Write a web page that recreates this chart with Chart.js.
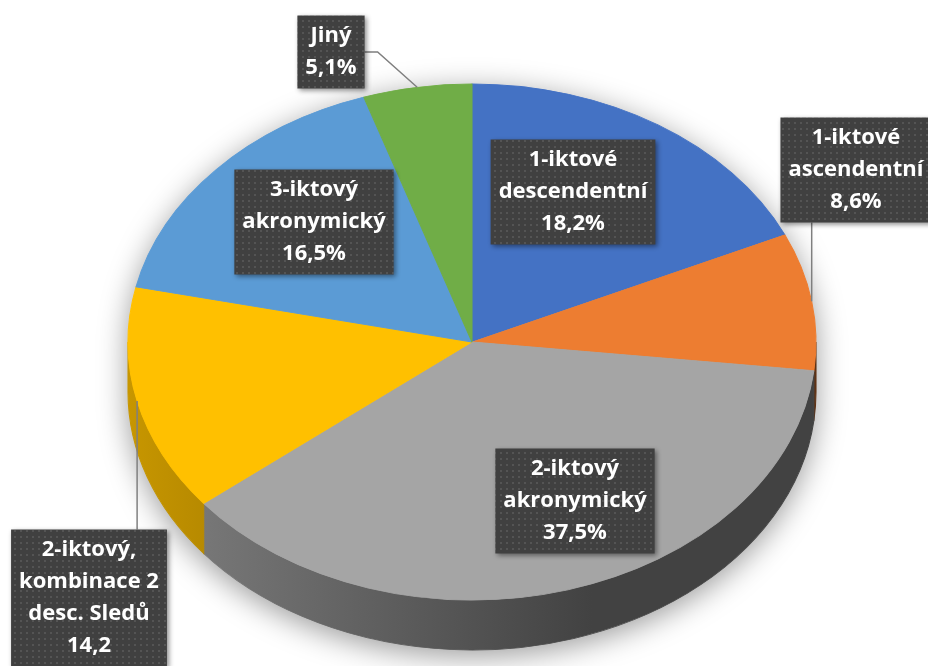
<!DOCTYPE html>
<html>
<head>
<meta charset="utf-8">
<script src="https://cdn.jsdelivr.net/npm/chart.js@4.4.0/dist/chart.umd.min.js"></script>
<style>
    html, body { margin: 0; padding: 0; background: #fff; }
    canvas { display: block; }
</style>
</head>
<body>
<canvas id="pieChart" width="928" height="666"></canvas>
<script>
// data
const categories = [
    ['1-iktové', 'descendentní'],
    ['1-iktové', 'ascendentní'],
    ['2-iktový', 'akronymický'],
    ['2-iktový,', 'kombinace 2', 'desc. Sledů'],
    ['3-iktový', 'akronymický'],
    ['Jiný'],
];
const values = [18.2, 8.6, 37.5, 14.2, 16.5, 5.1];
const valueLabels = ['18,2%', '8,6%', '37,5%', '14,2', '16,5%', '5,1%'];

// look
const colors = ['#4472C4', '#ED7D31', '#A5A5A5', '#FFC000', '#5B9BD5', '#70AD47'];
const pieCenter = { x: 472, y: 342 };
const pieRadius = { x: 344, y: 258 };
const sideDepth = 50;
const labelCenters = [
    { x: 573, y: 192 },
    { x: 856, y: 170 },
    { x: 575, y: 501 },
    { x: 89, y: 598 },
    { x: 314, y: 222 },
    { x: 331, y: 52 },
];
const hasLeader = [false, true, false, true, false, true];
const labelFont = 'bold 22px "Open Sans"';
const lineHeight = 32;

(function () {
    const canvas = document.getElementById('pieChart');
    const ctx = canvas.getContext('2d');

    const shade = (hex, f) => {
        const n = parseInt(hex.slice(1), 16);
        const r = Math.round(((n >> 16) & 255) * f);
        const g = Math.round(((n >> 8) & 255) * f);
        const b = Math.round((n & 255) * f);
        return `rgb(${r},${g},${b})`;
    };

    const tile = document.createElement('canvas');
    tile.width = 6;
    tile.height = 6;
    const tctx = tile.getContext('2d');
    tctx.fillStyle = '#404040';
    tctx.fillRect(0, 0, 6, 6);
    tctx.fillStyle = '#545454';
    tctx.fillRect(2, 2, 2, 2);
    const boxPattern = ctx.createPattern(tile, 'repeat');

    // squash the flat pie into a tilted disc and give it a side wall
    const pie3d = {
        id: 'pie3d',
        beforeDatasetsDraw(chart) {
            const c = chart.ctx;
            const arcs = chart.getDatasetMeta(0).data;
            const { x, y, outerRadius: r } = arcs[0];
            c.save();
            c.translate(pieCenter.x, pieCenter.y);
            c.scale(pieRadius.x / r, pieRadius.y / r);
            c.translate(-x, -y);
            const d = sideDepth * r / pieRadius.y;

            // soft shadow under the disc
            c.save();
            c.beginPath();
            c.arc(x, y, r, Math.PI, 2 * Math.PI);
            c.arc(x, y + d, r, 0, Math.PI);
            c.closePath();
            c.shadowColor = 'rgba(0,0,0,0.4)';
            c.shadowBlur = 30;
            c.shadowOffsetY = 6;
            c.fillStyle = '#fff';
            c.fill();
            c.restore();

            arcs.forEach((arc, i) => {
                const a1 = Math.max(arc.startAngle, 0);
                const a2 = Math.min(arc.endAngle, Math.PI);
                if (a2 <= a1) return;
                const grad = c.createLinearGradient(x - r, 0, x + r * 0.35, 0);
                grad.addColorStop(0, shade(colors[i], 0.78));
                grad.addColorStop(1, shade(colors[i], 0.4));
                c.beginPath();
                c.arc(x, y, r, a1, a2);
                c.arc(x, y + d, r, a2, a1, true);
                c.closePath();
                c.fillStyle = grad;
                c.fill();
                c.strokeStyle = grad;
                c.lineWidth = 1;
                c.stroke();
            });
        },
        afterDatasetsDraw(chart) {
            chart.ctx.restore();
        },
    };

    const boxLabels = {
        id: 'boxLabels',
        afterDraw(chart) {
            const c = chart.ctx;
            const arcs = chart.getDatasetMeta(0).data;
            c.save();
            c.font = labelFont;
            c.textAlign = 'center';
            c.textBaseline = 'middle';

            arcs.forEach((arc, i) => {
                const lines = [...categories[i], valueLabels[i]];
                const w = Math.max(...lines.map((l) => c.measureText(l).width)) + 16;
                const h = lines.length * lineHeight + 9;
                const cx = labelCenters[i].x;
                const cy = labelCenters[i].y;
                const box = { l: cx - w / 2, r: cx + w / 2, t: cy - h / 2, b: cy + h / 2 };

                if (hasLeader[i]) {
                    const mid = (arc.startAngle + arc.endAngle) / 2;
                    const ex = pieCenter.x + pieRadius.x * Math.cos(mid);
                    const ey = pieCenter.y + pieRadius.y * Math.sin(mid);
                    c.beginPath();
                    c.moveTo(ex, ey);
                    if (ex > box.l && ex < box.r) {
                        c.lineTo(ex, ey > cy ? box.b : box.t);
                    } else {
                        const side = ex > cx ? box.r : box.l;
                        const knee = ex > cx ? side + 13 : side - 13;
                        c.lineTo(knee, cy);
                        c.lineTo(side, cy);
                    }
                    c.strokeStyle = '#7f7f7f';
                    c.lineWidth = 1.5;
                    c.stroke();
                }

                c.save();
                c.shadowColor = 'rgba(0,0,0,0.45)';
                c.shadowBlur = 5;
                c.shadowOffsetX = 2;
                c.shadowOffsetY = 2;
                c.fillStyle = boxPattern;
                c.fillRect(box.l, box.t, w, h);
                c.restore();

                c.fillStyle = '#fff';
                const top = cy - ((lines.length - 1) * lineHeight) / 2;
                lines.forEach((l, k) => c.fillText(l, cx, top + k * lineHeight));
            });
            c.restore();
        },
    };

    new Chart(canvas, {
        type: 'pie',
        data: {
            labels: categories.map((l) => l.join(' ')),
            datasets: [
                {
                    data: values,
                    backgroundColor: colors,
                    borderColor: colors,
                    borderWidth: 1,
                },
            ],
        },
        options: {
            responsive: false,
            animation: false,
            layout: { padding: 10 },
            plugins: {
                legend: { display: false },
                tooltip: { enabled: false },
            },
        },
        plugins: [pie3d, boxLabels],
    });
})();
</script>
</body>
</html>
